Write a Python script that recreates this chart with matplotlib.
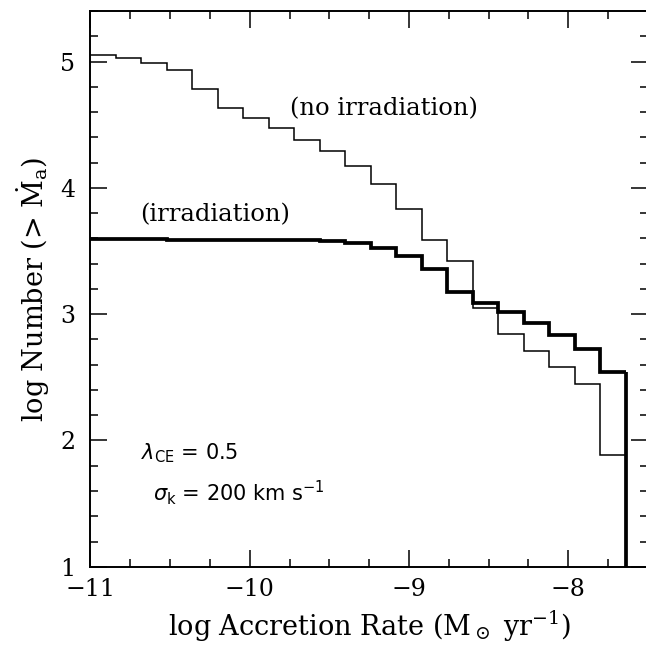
import numpy as np
import matplotlib
matplotlib.use("Agg")
import matplotlib.pyplot as plt
from matplotlib.ticker import MultipleLocator

# bin edges in log accretion rate
bin_edges = [-11.0, -10.84, -10.68, -10.52, -10.36, -10.2, -10.04, -9.88, -9.72,
             -9.56, -9.4, -9.24, -9.08, -8.92, -8.76, -8.6, -8.44, -8.28, -8.12,
             -7.96, -7.8, -7.64]

# cumulative log number, no irradiation (thin)
no_irr = [5.05, 5.025, 4.99, 4.93, 4.785, 4.63, 4.555, 4.475, 4.38, 4.29, 4.175,
          4.03, 3.83, 3.59, 3.42, 3.05, 2.84, 2.71, 2.585, 2.445, 1.885]

# cumulative log number, irradiation (thick)
irr = [3.595, 3.593, 3.592, 3.59, 3.59, 3.589, 3.588, 3.587, 3.586, 3.58, 3.56,
       3.52, 3.463, 3.36, 3.177, 3.087, 3.014, 2.927, 2.834, 2.727, 2.542]

plt.rcParams['font.family'] = 'DejaVu Serif'
plt.rcParams['mathtext.fontset'] = 'dejavuserif'

fig = plt.figure(figsize=(6.46, 6.47), dpi=100)
ax = fig.add_axes([0.140, 0.124, 0.863, 0.859])

ax.stairs(no_irr, bin_edges, baseline=None, color='black', lw=1.1)
ax.vlines(bin_edges[-1], 1.0, no_irr[-1], color='black', lw=1.1)
ax.stairs(irr, bin_edges, baseline=None, color='black', lw=2.7)
ax.vlines(bin_edges[-1], 1.0, irr[-1], color='black', lw=2.7)

ax.set_xlim(-11, -7.5)
ax.set_ylim(1, 5.4)
ax.xaxis.set_major_locator(MultipleLocator(1))
ax.xaxis.set_minor_locator(MultipleLocator(0.25))
ax.yaxis.set_major_locator(MultipleLocator(1))
ax.yaxis.set_minor_locator(MultipleLocator(0.2))
ax.tick_params(which='both', direction='in', top=True, right=True, width=1.1,
               labelsize=17)
ax.tick_params(which='major', length=12)
ax.tick_params(which='minor', length=6)
ax.tick_params(axis='x', pad=8)
ax.tick_params(axis='y', pad=11)
for s in ax.spines.values():
    s.set_linewidth(1.4)

ax.set_xlabel(r"log Accretion Rate (M$_\odot$ yr$^{-1}$)", fontsize=19.5, labelpad=6)
ax.set_ylabel(r"log Number (> $\dot{\mathrm{M}}_\mathrm{a}$)", fontsize=19.5, labelpad=6)

ax.text(-9.75, 4.63, "(no irradiation)", fontsize=17.5, va='center')
ax.text(-10.69, 3.79, "(irradiation)", fontsize=17.5, va='center')
ax.text(-10.68, 1.90, r"$\lambda_{\mathrm{CE}}$ = 0.5", fontsize=15, va='center',
        family='DejaVu Sans', math_fontfamily='dejavusans')
ax.text(-10.61, 1.59, r"$\sigma_{\mathrm{k}}$ = 200 km s$^{-1}$", fontsize=15, va='center',
        family='DejaVu Sans', math_fontfamily='dejavusans')

fig.savefig("out.png", dpi=100)
